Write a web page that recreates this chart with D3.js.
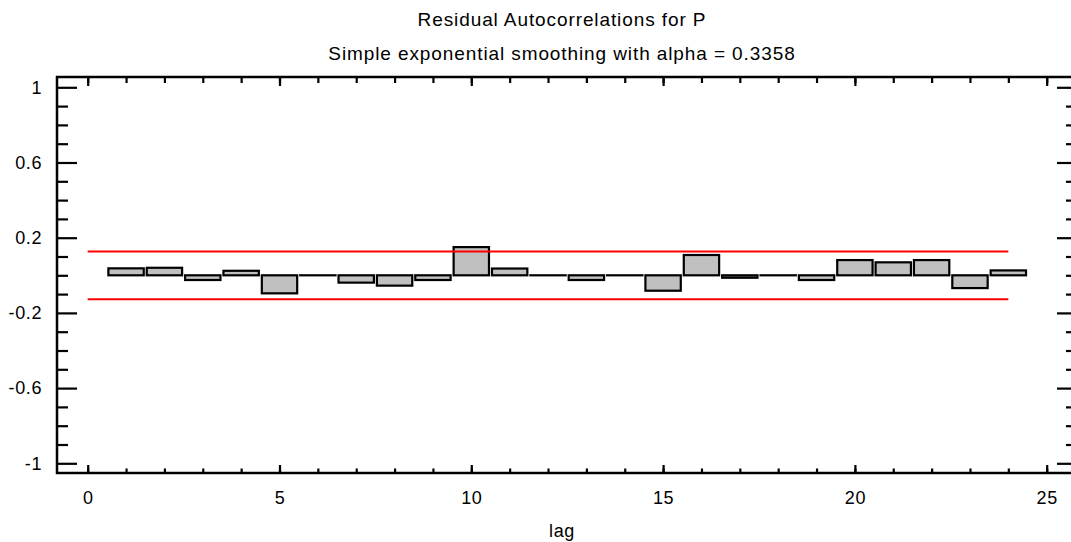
<!DOCTYPE html>
<html>
<head>
<meta charset="utf-8">
<script src="https://cdn.jsdelivr.net/npm/d3@7"></script>
<style>
  body { margin: 0; background: #fff; }
  text { font-family: "Liberation Sans", Arial, sans-serif; fill: #000; }
</style>
</head>
<body>
<div id="chart"></div>
<script>
// residual autocorrelations, one per lag
let lags = [1, 2, 3, 4, 5, 6, 7, 8, 9, 10, 11, 12, 13, 14, 15, 16, 17, 18, 19, 20, 21, 22, 23, 24];
let acf = [0.037, 0.040, -0.025, 0.024, -0.096, 0, -0.039, -0.055, -0.025, 0.150, 0.036, 0,
           -0.025, 0, -0.082, 0.108, -0.013, 0, -0.025, 0.081, 0.069, 0.081, -0.068, 0.026];
// 95% probability limits
let limits = [0.127, -0.127];
let xMajor = [0, 5, 10, 15, 20, 25];
let yMajor = [1, 0.6, 0.2, -0.2, -0.6, -1];
let yMinor = [0.9, 0.8, 0.7, 0.5, 0.4, 0.3, 0.1, 0, -0.1, -0.3, -0.4, -0.5, -0.7, -0.8, -0.9];

let width = 1071, height = 542;
let frame = {left: 57, right: 1077, top: 77, bottom: 473};

let svg = d3.select("#chart").append("svg")
  .attr("width", width).attr("height", height);

let xScale = d3.scaleLinear().domain([0, 25]).range([87.7, 1046.7]);
let yScale = d3.scaleLinear().domain([-1, 1]).range([463.3, 87.3]);

// titles
let cx = 562;
svg.append("text").attr("x", cx).attr("y", 25.5).attr("text-anchor", "middle")
  .style("font-size", "19px").style("letter-spacing", "0.9px")
  .text("Residual Autocorrelations for P");
svg.append("text").attr("x", cx).attr("y", 60).attr("text-anchor", "middle")
  .style("font-size", "19px").style("letter-spacing", "0.9px")
  .text("Simple exponential smoothing with alpha = 0.3358");

// bars (zero values still get an outline, drawn as a flat line)
let step = xScale(1) - xScale(0);
svg.append("g").selectAll("rect")
  .data(lags)
  .enter()
  .append("rect")
  .attr("x", function(d){ return xScale(d) - step / 2 + 1.5; })
  .attr("width", step - 3)
  .attr("y", function(d, i){ return Math.min(yScale(acf[i]), yScale(0)); })
  .attr("height", function(d, i){ return Math.max(Math.abs(yScale(acf[i]) - yScale(0)), 0.01); })
  .attr("fill", "#c0c0c0")
  .attr("stroke", "#000")
  .attr("stroke-width", 2.2);

// limit lines
svg.append("g").selectAll("line")
  .data(limits)
  .enter()
  .append("line")
  .attr("x1", xScale(0)).attr("x2", xScale(24))
  .attr("y1", function(d){ return yScale(d); })
  .attr("y2", function(d){ return yScale(d); })
  .attr("stroke", "#ff0000")
  .attr("stroke-width", 2);

// frame
svg.append("rect")
  .attr("x", frame.left).attr("y", frame.top)
  .attr("width", frame.right - frame.left).attr("height", frame.bottom - frame.top)
  .attr("fill", "none").attr("stroke", "#000").attr("stroke-width", 2.5);

function styleAxis(g) {
  g.select(".domain").remove();
  g.selectAll(".tick line").attr("stroke", "#000").attr("stroke-width", 2.2);
  g.selectAll("text").style("font-size", "18px").style("letter-spacing", "0.6px")
    .style("font-family", '"Liberation Sans", Arial, sans-serif');
}

// bottom axis
svg.append("g").attr("transform", "translate(0," + frame.bottom + ")")
  .call(d3.axisBottom(xScale).tickValues(d3.range(0, 26)).tickSize(-4.5).tickFormat(""))
  .call(styleAxis);
svg.append("g").attr("transform", "translate(0," + frame.bottom + ")")
  .call(d3.axisBottom(xScale).tickValues(xMajor).tickSize(-8).tickPadding(18)
    .tickFormat(function(d){ return String(d); }))
  .call(styleAxis);

// top axis
svg.append("g").attr("transform", "translate(0," + frame.top + ")")
  .call(d3.axisTop(xScale).tickValues(d3.range(0, 26)).tickSize(-6).tickFormat(""))
  .call(styleAxis);
svg.append("g").attr("transform", "translate(0," + frame.top + ")")
  .call(d3.axisTop(xScale).tickValues(xMajor).tickSize(-9).tickFormat(""))
  .call(styleAxis);

// left axis
svg.append("g").attr("transform", "translate(" + frame.left + ",0)")
  .call(d3.axisLeft(yScale).tickValues(yMinor).tickSize(-11).tickFormat(""))
  .call(styleAxis);
svg.append("g").attr("transform", "translate(" + frame.left + ",0)")
  .call(d3.axisLeft(yScale).tickValues(yMajor).tickSize(-20).tickPadding(15)
    .tickFormat(function(d){ return String(d); }))
  .call(styleAxis);

// right axis
svg.append("g").attr("transform", "translate(" + frame.right + ",0)")
  .call(d3.axisRight(yScale).tickValues(yMinor).tickSize(-11).tickFormat(""))
  .call(styleAxis);
svg.append("g").attr("transform", "translate(" + frame.right + ",0)")
  .call(d3.axisRight(yScale).tickValues(yMajor).tickSize(-20).tickFormat(""))
  .call(styleAxis);

// x axis label
svg.append("text").attr("x", cx).attr("y", 537).attr("text-anchor", "middle")
  .style("font-size", "18px").style("letter-spacing", "0.6px").text("lag");
</script>
</body>
</html>
